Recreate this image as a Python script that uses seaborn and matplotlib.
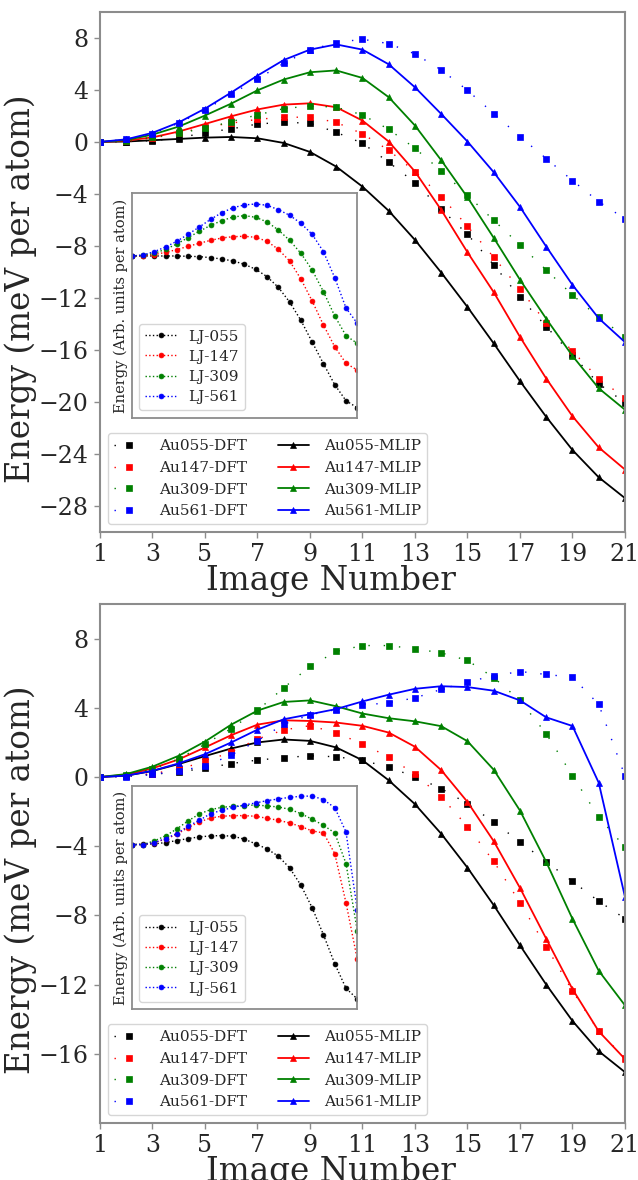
import matplotlib
matplotlib.use("Agg")
import matplotlib.pyplot as plt
import seaborn as sns

sns.set_style("ticks")
plt.rcParams['font.family'] = ['DejaVu Serif']
plt.rcParams['mathtext.fontset'] = 'dejavuserif'

images = list(range(1, 22))
sizes = ['055', '147', '309', '561']
colors = ['k', 'r', 'g', 'b']

# ---- upper panel: DFT and MLIP energies (meV per atom) ----
au055_dft_top = [0, 0.03, 0.1, 0.3, 0.72, 1.0, 1.38, 1.51, 1.44, 0.74, -0.1, -1.56, -3.13, -5.18, -7.1, -9.46, -11.95, -14.2, -16.4, -18.6, -20.05]
au147_dft_top = [0, 0.05, 0.3, 0.67, 1.15, 1.44, 1.74, 1.9, 1.9, 1.51, 0.62, -0.64, -2.28, -4.2, -6.49, -8.87, -11.33, -13.9, -16.1, -18.2, -19.7]
au309_dft_top = [0, 0.1, 0.35, 0.67, 1.05, 1.56, 2.08, 2.56, 2.77, 2.67, 2.08, 0.97, -0.49, -2.23, -4.1, -6.03, -7.92, -9.85, -11.77, -13.5, -14.97]
au561_dft_top = [0, 0.2, 0.64, 1.44, 2.46, 3.67, 4.85, 6.05, 7.08, 7.64, 7.9, 7.56, 6.77, 5.54, 3.97, 2.18, 0.41, -1.28, -2.97, -4.59, -5.92]

au055_mlip_top = [0, 0.03, 0.13, 0.23, 0.33, 0.38, 0.28, -0.08, -0.77, -1.9, -3.44, -5.3, -7.54, -10.05, -12.7, -15.5, -18.4, -21.15, -23.7, -25.8, -27.4]
au147_mlip_top = [0, 0.1, 0.35, 0.8, 1.38, 1.97, 2.5, 2.87, 2.97, 2.67, 1.64, 0.03, -2.28, -5.23, -8.49, -11.56, -15.0, -18.2, -21.1, -23.5, -25.2]
au309_mlip_top = [0, 0.15, 0.56, 1.18, 2.03, 2.95, 3.97, 4.8, 5.36, 5.5, 4.92, 3.44, 1.26, -1.41, -4.26, -7.38, -10.6, -13.6, -16.46, -18.95, -20.6]
au561_mlip_top = [0, 0.2, 0.7, 1.5, 2.56, 3.8, 5.1, 6.3, 7.1, 7.5, 7.1, 5.97, 4.2, 2.15, 0.03, -2.33, -5.0, -8.05, -11.0, -13.57, -15.4]

# ---- lower panel ----
au055_dft_bot = [0, 0.05, 0.15, 0.3, 0.5, 0.78, 0.98, 1.12, 1.23, 1.17, 0.97, 0.56, 0.02, -0.67, -1.54, -2.61, -3.75, -4.9, -6.03, -7.18, -8.18]
au147_dft_bot = [0, 0.05, 0.2, 0.45, 0.9, 1.45, 2.2, 2.72, 2.97, 2.55, 1.92, 1.15, 0.17, -1.15, -2.86, -4.88, -7.26, -9.81, -12.36, -14.7, -16.24]
au309_dft_bot = [0, 0.1, 0.45, 1.05, 1.9, 2.8, 3.85, 5.16, 6.39, 7.26, 7.6, 7.6, 7.41, 7.18, 6.74, 5.75, 4.43, 2.5, 0.08, -2.32, -4.05]
au561_dft_bot = [0, 0.03, 0.15, 0.36, 0.63, 1.27, 2.1, 3.05, 3.6, 3.9, 4.15, 4.3, 4.57, 5.07, 5.5, 5.85, 6.1, 5.93, 5.77, 4.2, 0.06]

au055_mlip_bot = [0, 0.08, 0.35, 0.75, 1.21, 1.65, 2.0, 2.17, 2.09, 1.71, 0.97, -0.19, -1.57, -3.28, -5.24, -7.41, -9.73, -12.0, -14.1, -15.85, -17.06]
au147_mlip_bot = [0, 0.13, 0.5, 1.02, 1.71, 2.42, 3.03, 3.28, 3.24, 3.15, 2.96, 2.57, 1.75, 0.4, -1.44, -3.71, -6.41, -9.35, -12.26, -14.7, -16.3]
au309_mlip_bot = [0, 0.17, 0.6, 1.23, 2.05, 3.03, 3.84, 4.34, 4.43, 4.09, 3.67, 3.4, 3.22, 2.94, 2.07, 0.42, -1.94, -4.91, -8.2, -11.2, -13.2]
au561_mlip_bot = [0, 0.08, 0.36, 0.79, 1.32, 2.0, 2.74, 3.34, 3.63, 3.93, 4.37, 4.76, 5.1, 5.25, 5.2, 4.99, 4.43, 3.45, 2.95, -0.33, -6.93]

# ---- Lennard-Jones reference curves (arbitrary units) ----
lj055_top = [0, 0, 0, 0, 0, -0.01, -0.02, -0.05, -0.09, -0.15, -0.25, -0.40, -0.62, -0.94, -1.38, -1.93, -2.58, -3.23, -3.86, -4.34, -4.55]
lj147_top = [0, 0.01, 0.04, 0.11, 0.19, 0.29, 0.38, 0.47, 0.54, 0.58, 0.59, 0.56, 0.44, 0.20, -0.15, -0.69, -1.35, -2.07, -2.72, -3.22, -3.42]
lj309_top = [0, 0.02, 0.08, 0.20, 0.36, 0.55, 0.74, 0.92, 1.06, 1.17, 1.21, 1.16, 1.02, 0.78, 0.47, 0.08, -0.42, -1.07, -1.80, -2.39, -2.62]
lj561_top = [0, 0.03, 0.13, 0.27, 0.44, 0.65, 0.87, 1.10, 1.30, 1.45, 1.53, 1.56, 1.52, 1.39, 1.22, 0.98, 0.65, 0.13, -0.65, -1.56, -2.02]

lj055_bot = [0, 0.01, 0.02, 0.06, 0.12, 0.18, 0.23, 0.26, 0.27, 0.25, 0.16, 0.02, -0.13, -0.35, -0.70, -1.22, -1.90, -2.71, -3.58, -4.32, -4.64]
lj147_bot = [0, 0, 0.06, 0.16, 0.31, 0.51, 0.68, 0.80, 0.85, 0.87, 0.87, 0.85, 0.79, 0.73, 0.65, 0.54, 0.41, 0.35, -0.27, -1.75, -3.45]
lj309_bot = [0, 0, 0.11, 0.26, 0.47, 0.71, 0.92, 1.05, 1.12, 1.15, 1.17, 1.19, 1.16, 1.13, 1.06, 0.93, 0.76, 0.58, 0.35, -0.57, -2.59]
lj561_bot = [0, 0, 0.06, 0.18, 0.33, 0.55, 0.73, 0.93, 1.03, 1.12, 1.19, 1.25, 1.32, 1.37, 1.42, 1.45, 1.46, 1.35, 1.11, 0.38, -1.97]

xticks = list(range(1, 22, 2))
yticks_top = list(range(-28, 9, 4))
yticks_bot = list(range(-16, 9, 4))

SPINE = '0.55'


def style_spines(ax, lw):
    for sp in ax.spines.values():
        sp.set_visible(True)
        sp.set_color(SPINE)
        sp.set_linewidth(lw)


def panel(ax, dft, mlip, ylim, yticks):
    dft_h, mlip_h = [], []
    for s, c, d, m in zip(sizes, colors, dft, mlip):
        sns.lineplot(x=images, y=d, ax=ax, color=c, marker='s', markersize=5,
                     linestyle=(0, (1, 10)), linewidth=1.0, markeredgecolor=c,
                     markeredgewidth=0.5)
        dft_h.append(ax.lines[-1])
        sns.lineplot(x=images, y=m, ax=ax, color=c, marker='^', markersize=5,
                     linewidth=1.3, markeredgecolor=c, markeredgewidth=0.5)
        mlip_h.append(ax.lines[-1])
    ax.set_xlim(1, 21)
    ax.set_ylim(*ylim)
    ax.set_xticks(xticks)
    ax.set_yticks(yticks)
    ax.tick_params(labelsize=17, length=4, width=1, color=SPINE, pad=4)
    ax.set_xlabel('Image Number', fontsize=23.5, labelpad=-1)
    ax.xaxis.label.set_x(0.44)
    ax.set_ylabel('Energy (meV per atom)', fontsize=23.5)
    ax.yaxis.set_label_coords(-0.12, 0.468)
    style_spines(ax, 1.5)
    labels = [f'Au{s}-DFT' for s in sizes] + [f'Au{s}-MLIP' for s in sizes]
    ax.legend(dft_h + mlip_h, labels, ncol=2, loc='lower left', fontsize=11,
              handlelength=2.0, handletextpad=1.0, columnspacing=2.0,
              labelspacing=0.5, borderaxespad=0.5)


def inset(rect, lj, ylim):
    ax = fig.add_axes(rect)
    handles = []
    for s, c, v in zip(sizes, colors, lj):
        sns.lineplot(x=images, y=v, ax=ax, color=c, marker='o', markersize=3.5,
                     linestyle=':', linewidth=1.0, markeredgecolor=c,
                     markeredgewidth=0.5)
        handles.append(ax.lines[-1])
    ax.set_xlim(1, 21)
    ax.set_ylim(*ylim)
    ax.set_xticks([])
    ax.set_yticks([])
    ax.set_xlabel('')
    ax.set_ylabel('Energy (Arb. units per atom)', fontsize=10.5, labelpad=3)
    style_spines(ax, 1.3)
    ax.legend(handles, [f'LJ-{s}' for s in sizes], loc='lower left', fontsize=11,
              labelspacing=0.4, handlelength=2.0, handletextpad=0.8)


fig = plt.figure(figsize=(6.38, 11.8), dpi=100)
ax_top = fig.add_axes([0.1567, 0.5492, 0.8229, 0.4407])
ax_bot = fig.add_axes([0.1567, 0.0483, 0.8229, 0.4398])

panel(ax_top,
      [au055_dft_top, au147_dft_top, au309_dft_top, au561_dft_top],
      [au055_mlip_top, au147_mlip_top, au309_mlip_top, au561_mlip_top],
      (-30, 10), yticks_top)
panel(ax_bot,
      [au055_dft_bot, au147_dft_bot, au309_dft_bot, au561_dft_bot],
      [au055_mlip_bot, au147_mlip_bot, au309_mlip_bot, au561_mlip_bot],
      (-20, 10), yticks_bot)

inset([0.2064, 0.646, 0.3536, 0.1902],
      [lj055_top, lj147_top, lj309_top, lj561_top], (-4.85, 1.88))
inset([0.2064, 0.1447, 0.3536, 0.1892],
      [lj055_bot, lj147_bot, lj309_bot, lj561_bot], (-4.95, 1.76))

fig.savefig('out.png', dpi=100)
